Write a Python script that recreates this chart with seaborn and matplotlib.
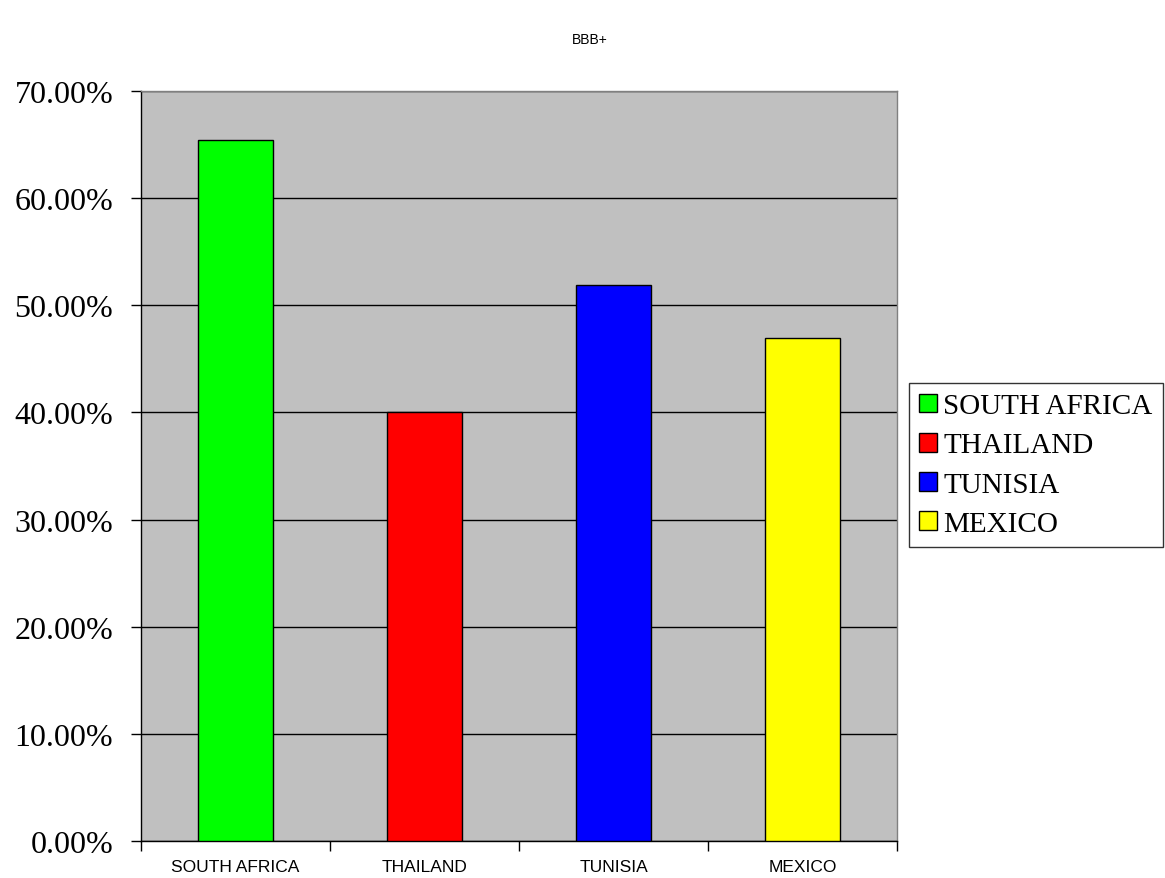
import numpy as np
import pandas as pd
import seaborn as sns
import matplotlib.pyplot as plt

countries = ['SOUTH AFRICA', 'THAILAND', 'TUNISIA', 'MEXICO']
shares = [65.45, 40.05, 51.87, 46.95]
colors = ['#00FF00', '#FF0000', '#0000FF', '#FFFF00']
yticks = [0, 10, 20, 30, 40, 50, 60, 70]

df = pd.DataFrame({'country': countries, 'share': shares})

sns.set_style('white')
plt.rcParams['text.color'] = 'black'
plt.rcParams['xtick.color'] = 'black'
plt.rcParams['ytick.color'] = 'black'

fig = plt.figure(figsize=(11.65, 8.79), dpi=100)
ax = fig.add_axes([141 / 1165, 37 / 879, 756 / 1165, 750 / 879])
ax.set_facecolor('#C0C0C0')

sns.barplot(data=df, x='country', y='share', hue='country', palette=colors,
            order=countries, hue_order=countries, width=0.4, dodge=False,
            saturation=1, edgecolor='black', linewidth=1, legend=True,
            ax=ax, zorder=3)

ax.set_ylim(0, 70)
ax.set_xlim(-0.5, 3.5)
ax.set_yticks(yticks)
ax.set_yticklabels([f'{v:.2f}%' for v in yticks], family='Liberation Serif', fontsize=23)
ax.yaxis.grid(True, color='black', linewidth=1, zorder=1)
ax.set_axisbelow(True)
ax.tick_params(axis='y', direction='out', length=7, width=1, color='black', pad=13, left=True)

ax.set_xticks(range(len(countries)))
ax.set_xticklabels(countries, family='Liberation Sans', fontsize=12.5)
ax.set_xticks(np.arange(-0.5, 4, 1), minor=True)
ax.tick_params(axis='x', which='major', length=0, pad=13)
ax.tick_params(axis='x', which='minor', direction='out', length=7, width=1, color='black', bottom=True)
ax.set_xlabel('')
ax.set_ylabel('')

for side in ['top', 'right']:
    ax.spines[side].set_color('#808080')
    ax.spines[side].set_linewidth(1)
for side in ['left', 'bottom']:
    ax.spines[side].set_color('black')
    ax.spines[side].set_linewidth(1)

fig.suptitle('BBB+', x=590 / 1165, y=1 - 40 / 879, va='center',
             family='Liberation Sans', fontsize=10, color='black')

handles, labels = ax.get_legend_handles_labels()
ax.get_legend().remove()
for h in handles:
    h.set_edgecolor('black')
leg = fig.legend(handles, labels, loc='center left',
                 bbox_to_anchor=(909 / 1165, 1 - 466 / 879),
                 prop={'family': 'Liberation Serif', 'size': 21},
                 handlelength=0.62, handleheight=0.62, handletextpad=0.2,
                 labelspacing=0.45, borderpad=0.35, borderaxespad=0,
                 fancybox=False, frameon=True, edgecolor='black')
leg.get_frame().set_linewidth(1)
for t in leg.get_texts():
    t.set_color('black')

plt.savefig('out.png', dpi=100)
plt.close()
